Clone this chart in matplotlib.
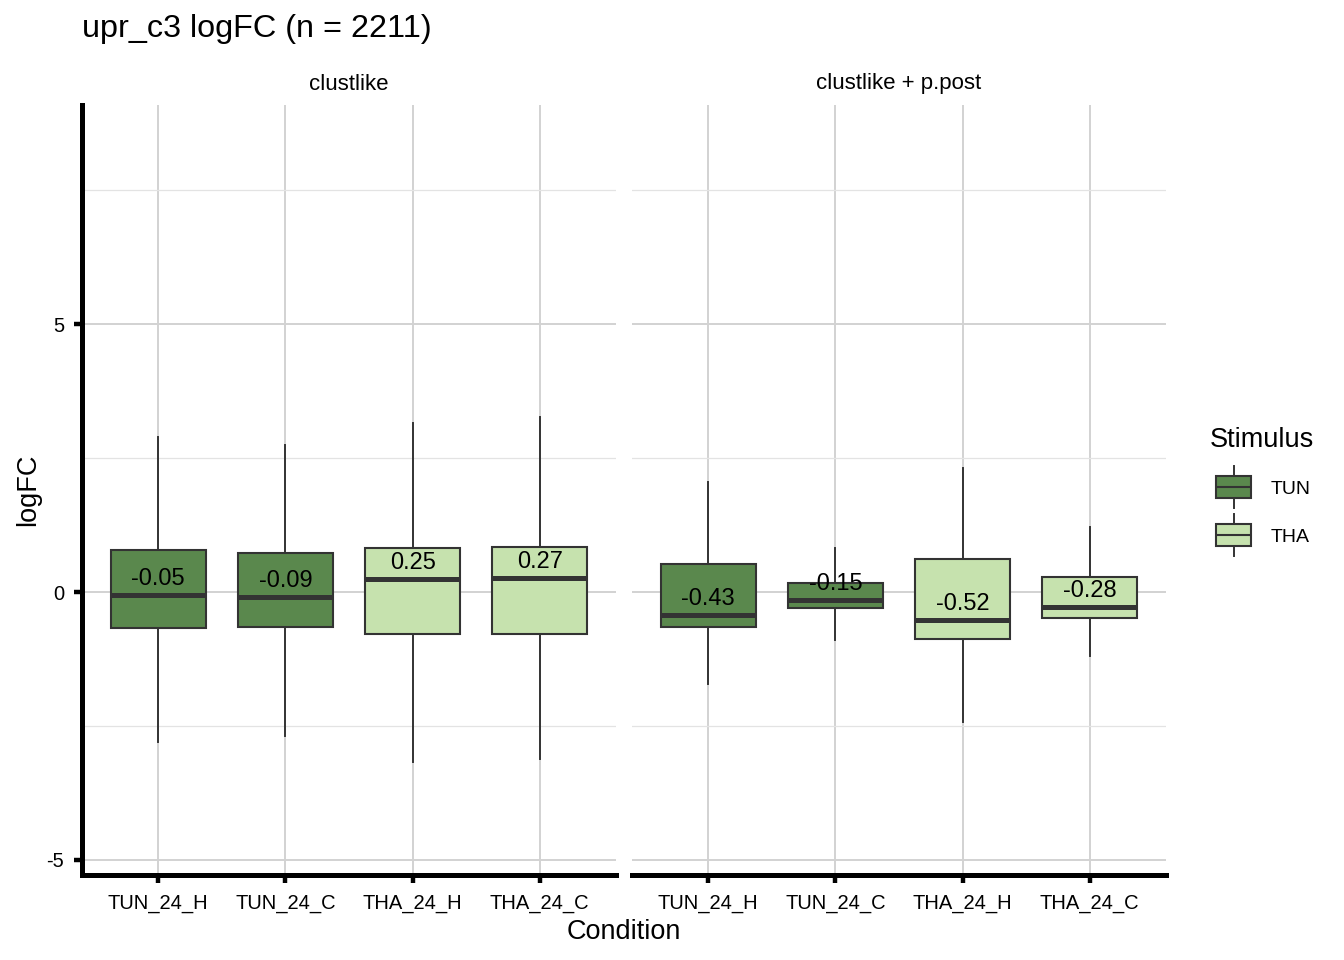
import matplotlib.pyplot as plt
from matplotlib.ticker import FixedLocator

plt.rcParams['font.family'] = ['Liberation Sans', 'DejaVu Sans']
plt.rcParams['axes.unicode_minus'] = False

# data
conditions = ['TUN_24_H', 'TUN_24_C', 'THA_24_H', 'THA_24_C']
stimulus = ['TUN', 'TUN', 'THA', 'THA']
panels = ['clustlike', 'clustlike + p.post']

med = [[-0.05, -0.09, 0.25, 0.27], [-0.43, -0.15, -0.52, -0.28]]
q1 = [[-0.67, -0.65, -0.78, -0.78], [-0.65, -0.30, -0.88, -0.49]]
q3 = [[0.78, 0.73, 0.82, 0.84], [0.52, 0.17, 0.62, 0.28]]
whislo = [[-2.80, -2.69, -3.17, -3.12], [-1.72, -0.90, -2.43, -1.19]]
whishi = [[2.89, 2.74, 3.15, 3.26], [2.05, 0.82, 2.31, 1.21]]

colors = {'TUN': '#5A884D', 'THA': '#C6E2AE'}
edge = '#333333'
W, H = 1344, 960

fig = plt.figure(figsize=(W / 100, H / 100), dpi=100)


def px_axes(x0, y0, x1, y1):
    return fig.add_axes([x0 / W, 1 - y1 / H, (x1 - x0) / W, (y1 - y0) / H])


panel_px = [(82, 105, 616, 875), (632, 105, 1166, 875)]
positions = list(range(1, len(conditions) + 1))

for i, name in enumerate(panels):
    ax = px_axes(*panel_px[i])
    stats = []
    for j in range(len(conditions)):
        stats.append(dict(med=med[i][j], q1=q1[i][j], q3=q3[i][j],
                          whislo=whislo[i][j], whishi=whishi[i][j], fliers=[]))
    bp = ax.bxp(stats, positions=positions, widths=0.75, patch_artist=True,
                showfliers=False, showcaps=False,
                boxprops=dict(edgecolor=edge, linewidth=1.5),
                medianprops=dict(color=edge, linewidth=3.6, solid_capstyle='butt'),
                whiskerprops=dict(color=edge, linewidth=1.4), zorder=3)
    for box, s in zip(bp['boxes'], stimulus):
        box.set_facecolor(colors[s])

    for j, m in enumerate(med[i]):
        ax.annotate(f'{m:.2f}', (positions[j], m), xytext=(0, 11.5),
                    textcoords='offset points', ha='center', va='center',
                    fontsize=17, zorder=5)

    ax.set_xlim(0.4, 4.6)
    ax.set_ylim(-5.28, 9.09)
    ax.set_xticks(positions)
    ax.set_xticklabels(conditions)
    ax.set_yticks([-5, 0, 5])
    ax.yaxis.set_minor_locator(FixedLocator([-2.5, 2.5, 7.5]))
    ax.set_axisbelow(True)
    ax.grid(True, which='major', color='#D2D2D2', linewidth=1.4)
    ax.grid(True, which='minor', axis='y', color='#E3E3E3', linewidth=0.9)
    ax.tick_params(which='minor', length=0)
    ax.tick_params(axis='both', which='major', length=5.5, width=3.2,
                   colors='black', labelsize=14.5)
    ax.tick_params(axis='x', pad=8.5)
    ax.tick_params(axis='y', pad=7.5)

    for side in ['top', 'right']:
        ax.spines[side].set_visible(False)
    ax.spines['bottom'].set_linewidth(3.6)
    if i == 0:
        ax.spines['left'].set_linewidth(3.6)
    else:
        ax.spines['left'].set_visible(False)
        ax.tick_params(axis='y', left=False, labelleft=False)

    fig.text((panel_px[i][0] + panel_px[i][2]) / 2 / W, 1 - 84 / H, name,
             ha='center', va='center', fontsize=16)

fig.text(82 / W, 1 - 29 / H, 'upr_c3 logFC (n = 2211)', ha='left', va='center',
         fontsize=23.3)
fig.text(28 / W, 1 - 490 / H, 'logFC', rotation=90, ha='center', va='center',
         fontsize=19.5)
fig.text(624 / W, 1 - 932 / H, 'Condition', ha='center', va='center', fontsize=19.5)

# legend
fig.text(1210 / W, 1 - 440 / H, 'Stimulus', ha='left', va='center', fontsize=19.5)
legend_items = ['TUN', 'THA']
legend_y = [487, 535]
for lab, yc in zip(legend_items, legend_y):
    lax = px_axes(1205, yc - 23, 1262, yc + 23)
    lb = lax.bxp([dict(med=0.5, q1=0.26, q3=0.74, whislo=0.04, whishi=0.96, fliers=[])],
                 positions=[0.5], widths=0.62, patch_artist=True,
                 showfliers=False, showcaps=False,
                 boxprops=dict(edgecolor=edge, linewidth=1.5),
                 medianprops=dict(color=edge, linewidth=1.5),
                 whiskerprops=dict(color=edge, linewidth=1.4))
    lb['boxes'][0].set_facecolor(colors[lab])
    lax.set_xlim(0, 1)
    lax.set_ylim(0, 1)
    lax.axis('off')
    fig.text(1271 / W, 1 - (yc + 2) / H, lab, ha='left', va='center', fontsize=14)

fig.savefig('out.png', dpi=100)
